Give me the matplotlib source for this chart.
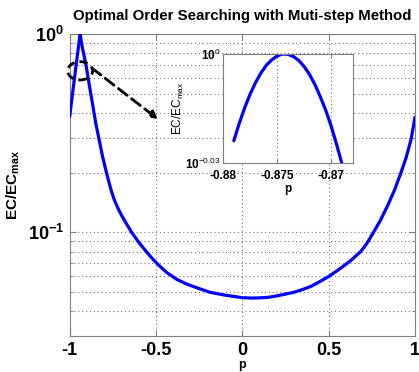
import matplotlib
matplotlib.use("Agg")
import matplotlib.pyplot as plt
from matplotlib.patches import Ellipse
from matplotlib.ticker import FixedLocator, FixedFormatter, NullFormatter

plt.rcParams['font.family'] = ['Liberation Sans', 'DejaVu Sans']
plt.rcParams['mathtext.fontset'] = 'custom'
plt.rcParams['mathtext.rm'] = 'Liberation Sans'
plt.rcParams['mathtext.bf'] = 'Liberation Sans:bold'
plt.rcParams['mathtext.it'] = 'Liberation Sans:italic'

# ---- data ----
p_main = [-1.0, -0.97, -0.94, -0.925, -0.907, -0.893, -0.878, -0.865, -0.849,
          -0.83, -0.81, -0.79, -0.772, -0.757, -0.742, -0.72, -0.70, -0.67,
          -0.641, -0.60, -0.535, -0.49, -0.438, -0.38, -0.322, -0.25, -0.186,
          -0.1, -0.05, 0.0, 0.05, 0.1, 0.15, 0.2, 0.25, 0.298, 0.35, 0.4, 0.45,
          0.502, 0.56, 0.628, 0.686, 0.72, 0.76, 0.80, 0.841, 0.88, 0.919,
          0.95, 0.977, 1.0]
ec_main = [0.384, 0.62, 1.0, 0.84, 0.71, 0.60, 0.50, 0.43, 0.355,
           0.295, 0.242, 0.205, 0.178, 0.160, 0.146, 0.132, 0.122, 0.110,
           0.100, 0.089, 0.076, 0.069, 0.0627, 0.0579, 0.0548, 0.0520, 0.0498,
           0.0482, 0.0475, 0.0468, 0.0466, 0.0467, 0.0470, 0.0478, 0.0488, 0.0498,
           0.0515, 0.0535, 0.0565, 0.0600, 0.0650, 0.072, 0.080, 0.0875, 0.100,
           0.115, 0.136, 0.162, 0.200, 0.240, 0.293, 0.380]

p_zoom = [-0.8790, -0.8785, -0.8780, -0.8775, -0.8770, -0.8765, -0.8760,
          -0.8755, -0.8750, -0.8745, -0.8740, -0.8735, -0.8730, -0.8725,
          -0.8720, -0.8715, -0.8710, -0.8705, -0.8700, -0.8695, -0.8689]
ec_zoom = [0.9465, 0.957, 0.9665, 0.9748, 0.982, 0.988, 0.9929,
           0.9963, 0.9988, 1.0, 0.9998, 0.9984, 0.9959, 0.992,
           0.987, 0.9806, 0.973, 0.9647, 0.955, 0.944, 0.930]

main_xticks = [-1, -0.5, 0, 0.5, 1]
main_xticklabels = ['-1', '-0.5', '0', '0.5', '1']
main_yticks = [0.1, 1.0]
main_yticklabels = [r'$\mathbf{10^{-1}}$', r'$\mathbf{10^{0}}$']
zoom_xticks = [-0.88, -0.875, -0.87]
zoom_xticklabels = ['-0.88', '-0.875', '-0.87']
zoom_yticks = [10 ** -0.03, 1.0]
zoom_yticklabels = [r'$\mathbf{10}^{-0.03}$', r'$\mathbf{10}^{0}$']

title = 'Optimal Order Searching with Muti-step Method'

# ---- figure ----
fig = plt.figure(figsize=(4.19, 3.72), dpi=100)
ax = fig.add_axes([0.1663, 0.0968, 0.8241, 0.8118])
ax.plot(p_main, ec_main, color='#0000ff', lw=2.3, zorder=3,
        solid_joinstyle='round', solid_capstyle='round')
ax.set_yscale('log')
ax.set_xlim(-1, 1)
ax.set_ylim(0.03, 1.0)
ax.xaxis.set_major_locator(FixedLocator(main_xticks))
ax.xaxis.set_major_formatter(FixedFormatter(main_xticklabels))
ax.yaxis.set_major_locator(FixedLocator(main_yticks))
ax.yaxis.set_major_formatter(FixedFormatter(main_yticklabels))
ax.yaxis.set_minor_formatter(NullFormatter())
ax.grid(True, which='both', axis='y', color='0.45', ls=(0, (1, 2.5)), lw=0.8)
ax.grid(True, which='major', axis='x', color='0.45', ls=(0, (1, 2.5)), lw=0.8)
ax.tick_params(which='both', direction='in', top=True, right=True, color='0.5')
ax.tick_params(which='major', length=4)
ax.tick_params(which='minor', length=2)
ax.tick_params(axis='x', labelsize=13, pad=4)
ax.tick_params(axis='y', labelsize=13, pad=4)
for lab in ax.get_xticklabels():
    lab.set_fontweight('bold')
for s in ax.spines.values():
    s.set_color('0.5')
ax.set_title(title, fontsize=10.8, fontweight='bold', pad=10)
ax.set_xlabel('p', fontsize=9, fontweight='bold', labelpad=0)
ax.set_ylabel(r'$\mathbf{EC/EC_{max}}$', fontsize=11, labelpad=4)

# dashed ellipse and arrow
ell = Ellipse((0.0304, 0.878), 0.0725, 0.0606, transform=ax.transAxes,
              fill=False, ls=(0, (3, 1.8)), lw=2, color='k', clip_on=False, zorder=5)
ax.add_patch(ell)
ax.annotate('', xy=(0.2557, 0.718), xytext=(0.0646, 0.887),
            xycoords='axes fraction', textcoords='axes fraction',
            arrowprops=dict(arrowstyle='-|>', ls=(0, (4, 2)), lw=2, color='k',
                            mutation_scale=11, shrinkA=0, shrinkB=0), zorder=5)

# ---- inset ----
axi = fig.add_axes([0.5322, 0.5618, 0.3103, 0.293])
axi.plot(p_zoom, ec_zoom, color='#0000ff', lw=2.3,
         solid_joinstyle='round', solid_capstyle='round')
axi.set_yscale('log')
axi.set_xlim(-0.88, -0.868)
axi.set_ylim(10 ** -0.03, 1.0)
axi.xaxis.set_major_locator(FixedLocator(zoom_xticks))
axi.xaxis.set_major_formatter(FixedFormatter(zoom_xticklabels))
axi.yaxis.set_major_locator(FixedLocator(zoom_yticks))
axi.yaxis.set_major_formatter(FixedFormatter(zoom_yticklabels))
axi.yaxis.set_minor_locator(FixedLocator([]))
axi.yaxis.set_minor_formatter(NullFormatter())
axi.grid(True, which='major', axis='x', color='0.45', ls=(0, (1, 2.5)), lw=0.8)
axi.tick_params(which='both', direction='in', top=True, right=True, color='0.5', length=3)
axi.tick_params(axis='x', labelsize=8.5, pad=5)
axi.tick_params(axis='y', labelsize=8.5, pad=2)
for lab in axi.get_xticklabels():
    lab.set_fontweight('bold')
for s in axi.spines.values():
    s.set_color('0.5')
axi.set_xlabel('p', fontsize=8.5, fontweight='bold', labelpad=1)
axi.set_ylabel(r'$\mathrm{EC/EC_{max}}$', fontsize=8.5, labelpad=-1)

fig.savefig('out.png', dpi=100)
